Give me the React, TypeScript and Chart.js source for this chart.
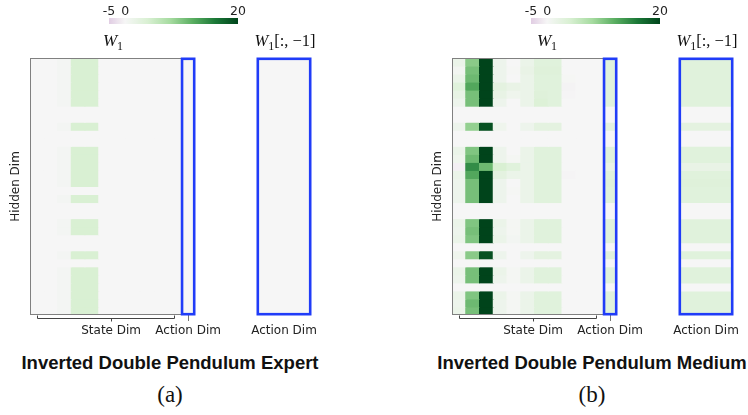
import React, { useEffect, useRef } from 'react';
import { Chart, registerables, LinearScale } from 'chart.js';

Chart.register(...registerables);

// ---------------- data ----------------
const STATE_DIMS = ['s0', 's1', 's2', 's3', 's4', 's5', 's6', 's7', 's8', 's9', 's10'];
const ACTION_DIMS = ['a0'];
const W1_COLUMNS = [...STATE_DIMS, ...ACTION_DIMS];
const HIDDEN_UNITS = 32;
const Y_AXIS_LABEL = 'Hidden Dim';
const STATE_LABEL = 'State Dim';
const ACTION_LABEL = 'Action Dim';
const COLORBAR_MIN = -5;
const COLORBAR_MAX = 20;
const COLORBAR_TICKS = [-5, 0, 20];
const PANEL_TITLES = ['Inverted Double Pendulum Expert', 'Inverted Double Pendulum Medium'];
const PANEL_TAGS = ['(a)', '(b)'];

// W1 (hidden x [state..., action]) for the expert dataset
const EXPERT_W1: number[][] = [
  [0, 0, 0.4, 4, 4, 0, 0, 0, 0, 0, 0, 0],
  [0, 0, 0.4, 4, 4, 0, 0, 0, 0, 0, 0, 0],
  [0, 0, 0.4, 4, 4, 0, 0, 0, 0, 0, 0, 0],
  [0, 0, 0.4, 4, 4, 0, 0, 0, 0, 0, 0, 0],
  [0, 0, 0.4, 4, 4, 0, 0, 0, 0, 0, 0, 0],
  [0, 0, 0.4, 4, 4, 0, 0, 0, 0, 0, 0, 0],
  [0, 0, 0, 0, 0, 0, 0, 0, 0, 0, 0, 0],
  [0, 0, 0, 0, 0, 0, 0, 0, 0, 0, 0, 0],
  [0, 0, 0.4, 4, 4, 0, 0, 0, 0, 0, 0, 0],
  [0, 0, 0, 0, 0, 0, 0, 0, 0, 0, 0, 0],
  [0, 0, 0, 0, 0, 0, 0, 0, 0, 0, 0, 0],
  [0, 0, 0.4, 4, 4, 0, 0, 0, 0, 0, 0, 0],
  [0, 0, 0.4, 4, 4, 0, 0, 0, 0, 0, 0, 0],
  [0, 0, 0.4, 4, 4, 0, 0, 0, 0, 0, 0, 0],
  [0, 0, 0.4, 4, 4, 0, 0, 0, 0, 0, 0, 0],
  [0, 0, 0.4, 4, 4, 0, 0, 0, 0, 0, 0, 0],
  [0, 0, 0, 0, 0, 0, 0, 0, 0, 0, 0, 0],
  [0, 0, 0.4, 4, 4, 0, 0, 0, 0, 0, 0, 0],
  [0, 0, 0, 0, 0, 0, 0, 0, 0, 0, 0, 0],
  [0, 0, 0, 0, 0, 0, 0, 0, 0, 0, 0, 0],
  [0, 0, 0.4, 4, 4, 0, 0, 0, 0, 0, 0, 0],
  [0, 0, 0.4, 4, 4, 0, 0, 0, 0, 0, 0, 0],
  [0, 0, 0, 0, 0, 0, 0, 0, 0, 0, 0, 0],
  [0, 0, 0, 0, 0, 0, 0, 0, 0, 0, 0, 0],
  [0, 0, 0.4, 4, 4, 0, 0, 0, 0, 0, 0, 0],
  [0, 0, 0, 0, 0, 0, 0, 0, 0, 0, 0, 0],
  [0, 0, 0.4, 4, 4, 0, 0, 0, 0, 0, 0, 0],
  [0, 0, 0.4, 4, 4, 0, 0, 0, 0, 0, 0, 0],
  [0, 0, 0.4, 4, 4, 0, 0, 0, 0, 0, 0, 0],
  [0, 0, 0.4, 4, 4, 0, 0, 0, 0, 0, 0, 0],
  [0, 0, 0.4, 4, 4, 0, 0, 0, 0, 0, 0, 0],
  [0, 0, 0.4, 4, 4, 0, 0, 0, 0, 0, 0, 0],
];

// W1 for the medium dataset
const MEDIUM_W1: number[][] = [
  [1.5, 9.5, 20, 1.2, 0, 1.5, 3, 3, 0, 0, 0, 3],
  [0.6, 10.5, 20, 1.2, 0.2, 1.8, 3.2, 3.2, 0, 0, 0, 3],
  [1.5, 11, 20, 1.2, 0, 1.5, 3, 3, 0.2, 0, 0, 3],
  [3, 12.5, 20, 2.5, 1.8, 1.5, 3, 3, -0.4, 0, 0, 3],
  [2, 10.5, 20, 2, 1, 1.5, 3.2, 3, -0.2, 0, 0, 3],
  [1.2, 10.5, 20, 1.2, 0, 1.5, 3.5, 3, 0, 0, 0, 3],
  [0, 0, 0, 0, 0, 0, 0, 0, 0, 0, 0, 0],
  [0, 0, 0, 0, 0, 0, 0, 0, 0, 0, 0, 0],
  [1.2, 9, 19, 1, 0, 1.2, 2.5, 2.5, 0, 0, 0, 2.5],
  [0, 0, 0, 0, 0, 0, 0, 0, 0, 0, 0, 0],
  [0, 0, 0, 0, 0, 0, 0, 0, 0, 0, 0, 0],
  [1.5, 10, 20, 1.2, 0, 1.5, 3, 3, 0, 0, 0, 3],
  [1, 11, 20, 1.2, 0.3, 1.5, 3, 3, 0, 0, 0, 3],
  [-0.8, 14.5, 11, 4, 3, 1.5, 3, 3, 0, 0, 0, 1.8],
  [1.5, 12.5, 20, 2.5, 1.5, 1.5, 3, 3, -0.3, 0, 0, 3],
  [1.2, 10.5, 20, 1.2, 0, 1.5, 3, 3, 0, 0, 0, 3.2],
  [1.2, 10.5, 20, 1.2, 0.2, 1.5, 3, 3, 0, 0, 0, 3],
  [1.2, 10.5, 20, 1.2, 0, 1.5, 3, 3, 0, 0, 0, 3],
  [0, 0, 0, 0, 0, 0, 0, 0, 0, 0, 0, 0],
  [0, 0, 0, 0, 0, 0, 0, 0, 0, 0, 0, 0],
  [1.5, 10, 20, 1.5, 0.3, 1.5, 3, 3, 0, 0, 0, 3],
  [1.2, 10.5, 20, 1.2, 0.3, 1.5, 3, 3, 0, 0, 0, 3],
  [1.5, 10, 20, 1.5, 0.5, 1.5, 3, 3, 0, 0, 0, 3],
  [0, 0, 0, 0, 0, 0, 0, 0, 0, 0, 0, 0],
  [1, 9.5, 19, 1.2, 0, 1.2, 2.5, 2.5, 0, 0, 0, 3],
  [0, 0, 0, 0, 0, 0, 0, 0, 0, 0, 0, 0],
  [1.5, 10.5, 20, 1.5, 0.3, 1.5, 3, 3, 0, 0, 0, 3],
  [1.2, 10.5, 20, 1.2, 0.3, 1.5, 3, 3, 0, 0, 0, 3],
  [0, 0, 0, 0, 0, 0, 0, 0, 0, 0, 0, 0],
  [1.5, 10, 20, 1.5, 0.3, 1.5, 3, 3, 0, 0, 0, 3],
  [1.2, 11, 20, 1.2, 0.3, 1.5, 3, 3, 0, 0, 0, 3],
  [1.5, 10.5, 20, 1.2, 0.3, 1.5, 3, 3, 0, 0, 0, 3],
];

const PANELS = [EXPERT_W1, MEDIUM_W1];

// ---------------- style ----------------
const CMAP_STOPS: [number, string][] = [
  [-5, '#e1cde3'],
  [0, '#f6f6f6'],
  [4, '#d9f0d3'],
  [8, '#a6dba0'],
  [12, '#5aae61'],
  [16, '#1b7837'],
  [20, '#00441b'],
];
const BLUE = '#203cf8';
const SPINE = '#808080';
const INK = '#222222';
const SANS = "'DejaVu Sans', sans-serif";
const SERIF = "'Liberation Serif', 'Times New Roman', serif";
const BOLD_SANS = "'Liberation Sans', Arial, sans-serif";
const CBAR_CENTER_FRACTION = 0.125;
const STATE_TICK_POS = 5.4;
const PANEL_DX = 422;
const W_LABEL_X = [113, 547];

function hexRgb(h: string): number[] {
  const n = parseInt(h.slice(1), 16);
  return [(n >> 16) & 255, (n >> 8) & 255, n & 255];
}
function cmap(v: number): string {
  const lo = CMAP_STOPS[0][0];
  const hi = CMAP_STOPS[CMAP_STOPS.length - 1][0];
  const x = Math.max(lo, Math.min(hi, v));
  for (let i = 0; i < CMAP_STOPS.length - 1; i++) {
    const [a, ca] = CMAP_STOPS[i];
    const [b, cb] = CMAP_STOPS[i + 1];
    if (x >= a && x <= b) {
      const t = (x - a) / (b - a);
      const A = hexRgb(ca);
      const B = hexRgb(cb);
      const c = A.map((q, k) => Math.round(q + (B[k] - q) * t));
      return `rgb(${c[0]},${c[1]},${c[2]})`;
    }
  }
  return CMAP_STOPS[CMAP_STOPS.length - 1][1];
}

// two-slope colour-bar axis (centre value 0)
class TwoSlopeScale extends LinearScale {
  static id = 'twoslope';
  getPixelForValue(value: number) {
    if (value === null || value === undefined || isNaN(value)) return NaN;
    const min = (this as any).min;
    const max = (this as any).max;
    const f = CBAR_CENTER_FRACTION;
    const dec = value <= 0 ? (f * (value - min)) / (0 - min) : f + ((1 - f) * value) / max;
    return this.getPixelForDecimal(dec);
  }
  getValueForPixel(pixel: number) {
    const dec = this.getDecimalForPixel(pixel);
    const min = (this as any).min;
    const max = (this as any).max;
    const f = CBAR_CENTER_FRACTION;
    return dec <= f ? min + (dec / f) * (0 - min) : ((dec - f) / (1 - f)) * max;
  }
}
Chart.register(TwoSlopeScale as any);

type XTick = { value: number; label: string; mark: boolean };

function heatmapChart(
  canvas: HTMLCanvasElement,
  rows: number[][],
  columns: string[],
  colOf: (row: number[], i: number) => number,
  pad: { left: number; right: number; top: number },
  withYTitle: boolean,
  xTicks: XTick[],
  decor: (chart: any) => void
) {
  const datasets = rows.slice(0, HIDDEN_UNITS).map((row, r) => ({
    data: columns.map(() => [r, r + 1]),
    backgroundColor: columns.map((_, i) => cmap(colOf(row, i))),
    borderWidth: 0,
    grouped: false,
    barPercentage: 1,
    categoryPercentage: 1,
    inflateAmount: 0.5,
    xAxisID: 'x',
    yAxisID: 'y',
  }));
  return new Chart(canvas, {
    type: 'bar',
    data: { labels: columns, datasets: datasets as any },
    options: {
      animation: false,
      responsive: false,
      maintainAspectRatio: false,
      events: [],
      layout: { padding: { left: pad.left, right: pad.right, top: pad.top, bottom: 0 } },
      plugins: { legend: { display: false }, tooltip: { enabled: false } },
      scales: {
        x: { type: 'category', display: false, offset: true },
        y: {
          type: 'linear',
          min: 0,
          max: HIDDEN_UNITS,
          reverse: true,
          display: withYTitle,
          ticks: { display: false },
          grid: { display: false },
          border: { display: false },
          title: {
            display: withYTitle,
            text: Y_AXIS_LABEL,
            color: INK,
            font: { family: SANS, size: 12 },
            padding: { top: 9, bottom: 0 },
          },
          afterFit: (s: any) => {
            s.width = withYTitle ? 30 : 0;
          },
        },
        xl: {
          type: 'linear',
          axis: 'x',
          position: 'bottom',
          offset: false,
          min: -0.5,
          max: columns.length - 0.5,
          afterBuildTicks: (s: any) => {
            s.ticks = xTicks.map((t) => ({ value: t.value }));
          },
          ticks: {
            callback: (_v: any, i: number) => xTicks[i]?.label ?? '',
            color: INK,
            font: { family: SANS, size: 12 },
            padding: 3,
            maxRotation: 0,
            minRotation: 0,
            autoSkip: false,
          },
          grid: {
            display: true,
            offset: false,
            drawOnChartArea: false,
            drawTicks: true,
            tickLength: 6,
            tickColor: (c: any) => (xTicks[c.index]?.mark ? '#777777' : 'rgba(0,0,0,0)'),
          },
          border: { display: false },
          afterFit: (s: any) => {
            s.height = 30;
            s.paddingLeft = 0;
            s.paddingRight = 0;
          },
        },
      } as any,
    },
    plugins: [{ id: 'decor', afterDraw: (chart: any) => decor(chart) }],
  });
}

function drawMainDecor(chart: any) {
  const ctx = chart.ctx as CanvasRenderingContext2D;
  const a = chart.chartArea;
  const xs = chart.scales.x;
  const xl = chart.scales.xl;
  ctx.save();
  // spine
  ctx.strokeStyle = SPINE;
  ctx.lineWidth = 1;
  ctx.strokeRect(a.left + 0.5, a.top + 0.5, a.right - a.left - 1, a.bottom - a.top - 1);
  // action column highlight
  const n = W1_COLUMNS.length;
  const w = (a.right - a.left) / n;
  const cx = xs.getPixelForValue(n - 1);
  ctx.strokeStyle = BLUE;
  ctx.lineWidth = 2.6;
  ctx.strokeRect(cx - w / 2 + 0.8, a.top + 0.8, w - 1.6, a.bottom - a.top - 1.6);
  // state bracket
  const x0 = Math.round(xl.getPixelForValue(0)) + 0.5;
  const x1 = Math.round(xl.getPixelForValue(STATE_DIMS.length - 1)) + 0.5;
  const xc = Math.round(xl.getPixelForValue(STATE_TICK_POS)) + 0.5;
  const yb = Math.round(a.bottom) + 3.5;
  ctx.strokeStyle = '#444444';
  ctx.lineWidth = 1;
  ctx.beginPath();
  ctx.moveTo(x0, a.bottom + 0.5);
  ctx.lineTo(x0, yb);
  ctx.lineTo(x1, yb);
  ctx.lineTo(x1, a.bottom + 0.5);
  ctx.moveTo(xc, yb);
  ctx.lineTo(xc, yb + 3);
  ctx.stroke();
  ctx.restore();
}

function drawColumnDecor(chart: any) {
  const ctx = chart.ctx as CanvasRenderingContext2D;
  const a = chart.chartArea;
  ctx.save();
  ctx.strokeStyle = BLUE;
  ctx.lineWidth = 2.6;
  ctx.strokeRect(a.left + 0.8, a.top + 0.8, a.right - a.left - 1.6, a.bottom - a.top - 1.6);
  ctx.restore();
}

function colorbarChart(canvas: HTMLCanvasElement) {
  return new Chart(canvas, {
    type: 'bar',
    data: {
      labels: ['cbar'],
      datasets: [
        {
          data: [[COLORBAR_MIN, COLORBAR_MAX]] as any,
          backgroundColor: (c: any) => {
            const chart = c.chart;
            const xs = chart.scales?.x;
            if (!chart.chartArea || !xs) return '#dddddd';
            const x0 = xs.getPixelForValue(COLORBAR_MIN);
            const x1 = xs.getPixelForValue(COLORBAR_MAX);
            const g = chart.ctx.createLinearGradient(x0, 0, x1, 0);
            for (let v = COLORBAR_MIN; v <= COLORBAR_MAX + 1e-9; v += 0.5) {
              g.addColorStop(Math.min(1, Math.max(0, (xs.getPixelForValue(v) - x0) / (x1 - x0))), cmap(v));
            }
            return g;
          },
          borderWidth: 0,
          barPercentage: 1,
          categoryPercentage: 1,
          inflateAmount: 0,
        } as any,
      ],
    },
    options: {
      indexAxis: 'y',
      animation: false,
      responsive: false,
      maintainAspectRatio: false,
      events: [],
      layout: { padding: { left: 19, right: 22, top: 0, bottom: 6 } },
      plugins: { legend: { display: false }, tooltip: { enabled: false } },
      scales: {
        x: {
          type: 'twoslope',
          position: 'top',
          offset: false,
          min: COLORBAR_MIN,
          max: COLORBAR_MAX,
          afterBuildTicks: (s: any) => {
            s.ticks = COLORBAR_TICKS.map((v) => ({ value: v }));
          },
          ticks: {
            callback: (v: any) => String(v),
            color: INK,
            font: { family: SANS, size: 12.5 },
            padding: -9,
            maxRotation: 0,
            minRotation: 0,
            autoSkip: false,
          },
          grid: { display: false },
          border: { display: false },
          afterFit: (s: any) => {
            s.height = 18;
            s.paddingLeft = 0;
            s.paddingRight = 0;
          },
        },
        y: { type: 'category', display: false },
      } as any,
    },
  });
}

const MAIN = { w: 240, h: 345 };
const COL = { dx: 240, w: 105, h: 345 };
const CB = { dx: 90, w: 170, h: 30 };

export default function App() {
  const refs = useRef<(HTMLCanvasElement | null)[]>([]);

  useEffect(() => {
    document.body.style.margin = '0';
    const charts: Chart[] = [];
    PANELS.forEach((rows, p) => {
      const main = refs.current[p * 3];
      const col = refs.current[p * 3 + 1];
      const cb = refs.current[p * 3 + 2];
      if (main) {
        charts.push(
          heatmapChart(
            main,
            rows,
            W1_COLUMNS,
            (row, i) => row[i],
            { left: 0, right: 45, top: 58 },
            true,
            [
              { value: STATE_TICK_POS, label: STATE_LABEL, mark: false },
              { value: W1_COLUMNS.length - 1, label: ACTION_LABEL, mark: true },
            ],
            drawMainDecor
          )
        );
      }
      if (col) {
        charts.push(
          heatmapChart(
            col,
            rows,
            ACTION_DIMS,
            (row) => row[row.length - 1],
            { left: 17, right: 34, top: 58 },
            false,
            [{ value: 0, label: ACTION_LABEL, mark: false }],
            drawColumnDecor
          )
        );
      }
      if (cb) charts.push(colorbarChart(cb));
    });
    return () => charts.forEach((c) => c.destroy());
  }, []);

  const abs: React.CSSProperties = { position: 'absolute' };

  return (
    <div style={{ position: 'absolute', left: 0, top: 0, width: 748, height: 415, overflow: 'hidden', background: '#ffffff' }}>
      {PANELS.map((_, p) => {
        const ox = p * PANEL_DX;
        return (
          <React.Fragment key={p}>
            <canvas
              ref={(el) => {
                refs.current[p * 3] = el;
              }}
              width={MAIN.w}
              height={MAIN.h}
              style={{ ...abs, left: ox, top: 0, width: MAIN.w, height: MAIN.h }}
            />
            <canvas
              ref={(el) => {
                refs.current[p * 3 + 1] = el;
              }}
              width={COL.w}
              height={COL.h}
              style={{ ...abs, left: ox + COL.dx, top: 0, width: COL.w, height: COL.h }}
            />
            <canvas
              ref={(el) => {
                refs.current[p * 3 + 2] = el;
              }}
              width={CB.w}
              height={CB.h}
              style={{ ...abs, left: ox + CB.dx, top: 0, width: CB.w, height: CB.h }}
            />
            <div
              style={{ ...abs, left: W_LABEL_X[p] - 60, width: 120, top: 32, textAlign: 'center', fontFamily: SERIF, fontSize: 17, lineHeight: '17px', color: '#111', whiteSpace: 'nowrap' }}
            >
              <i>W</i>
              <span style={{ fontSize: 12, position: 'relative', top: 4 }}>1</span>
            </div>
            <div
              style={{ ...abs, left: ox + 285 - 60, width: 120, top: 32, textAlign: 'center', fontFamily: SERIF, fontSize: 16.5, lineHeight: '17px', color: '#111', whiteSpace: 'nowrap' }}
            >
              <i>W</i>
              <span style={{ fontSize: 12, position: 'relative', top: 4 }}>1</span>
              {'[:, \u22121]'}
            </div>
            <div
              style={{ ...abs, left: ox + 170 - 180, width: 360, top: 354.3, textAlign: 'center', fontFamily: BOLD_SANS, fontWeight: 'bold', fontSize: 18.5, lineHeight: '18.5px', color: '#111', whiteSpace: 'nowrap' }}
            >
              {PANEL_TITLES[p]}
            </div>
            <div
              style={{ ...abs, left: ox + 170 - 50, width: 100, top: 382.7, textAlign: 'center', fontFamily: SERIF, fontSize: 23, lineHeight: '23px', color: '#111', whiteSpace: 'nowrap' }}
            >
              {PANEL_TAGS[p]}
            </div>
          </React.Fragment>
        );
      })}
    </div>
  );
}
